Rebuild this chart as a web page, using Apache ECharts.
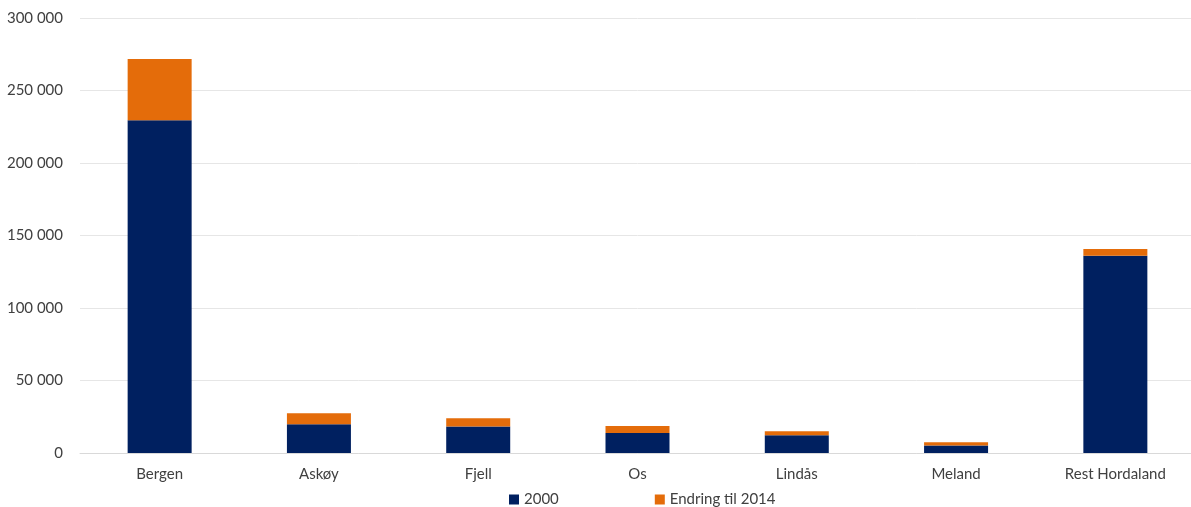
<!DOCTYPE html>
<html>
<head>
<meta charset="utf-8">
<script src="https://cdn.jsdelivr.net/npm/echarts@6/dist/echarts.min.js"></script>
<style>html,body{margin:0;padding:0;background:#fff;overflow:hidden}#c{width:1195px;height:507px}</style>
</head>
<body>
<div id="c"></div>
<script>
const categories = ['Bergen', 'Askøy', 'Fjell', 'Os', 'Lindås', 'Meland', 'Rest Hordaland'];
const values2000 = [229400, 19800, 18200, 13800, 12200, 5100, 136100];
const endring2014 = [42300, 7600, 5700, 4800, 2800, 2300, 4600];
const seriesNames = ['2000', 'Endring til 2014'];

const fmt = v => String(v).replace(/\B(?=(\d{3})+(?!\d))/g, ' ');
const chart = echarts.init(document.getElementById('c'));
chart.setOption({
  animation: false,
  textStyle: { fontFamily: 'Lato, "Open Sans", sans-serif' },
  grid: { left: 80, right: 0, top: 18, bottom: 54, containLabel: false },
  legend: {
    top: 487, left: 504, itemWidth: 10, itemHeight: 10, itemGap: 96,
    icon: 'rect',
    textStyle: { color: '#404040', fontSize: 15 },
    data: seriesNames
  },
  xAxis: {
    type: 'category', data: categories,
    axisLine: { lineStyle: { color: '#d9d9d9' } },
    axisTick: { show: false },
    axisLabel: { color: '#404040', fontSize: 15, margin: 14 }
  },
  yAxis: {
    type: 'value', min: 0, max: 300000, interval: 50000,
    axisLine: { show: false }, axisTick: { show: false },
    splitLine: { lineStyle: { color: '#e6e6e6' } },
    axisLabel: { color: '#404040', fontSize: 15, margin: 17, formatter: fmt }
  },
  series: [
    { name: seriesNames[0], type: 'bar', stack: 's', data: values2000, barWidth: 64, itemStyle: { color: '#002060' } },
    { name: seriesNames[1], type: 'bar', stack: 's', data: endring2014, barWidth: 64, itemStyle: { color: '#E46C0A' } }
  ]
});
</script>
</body>
</html>
